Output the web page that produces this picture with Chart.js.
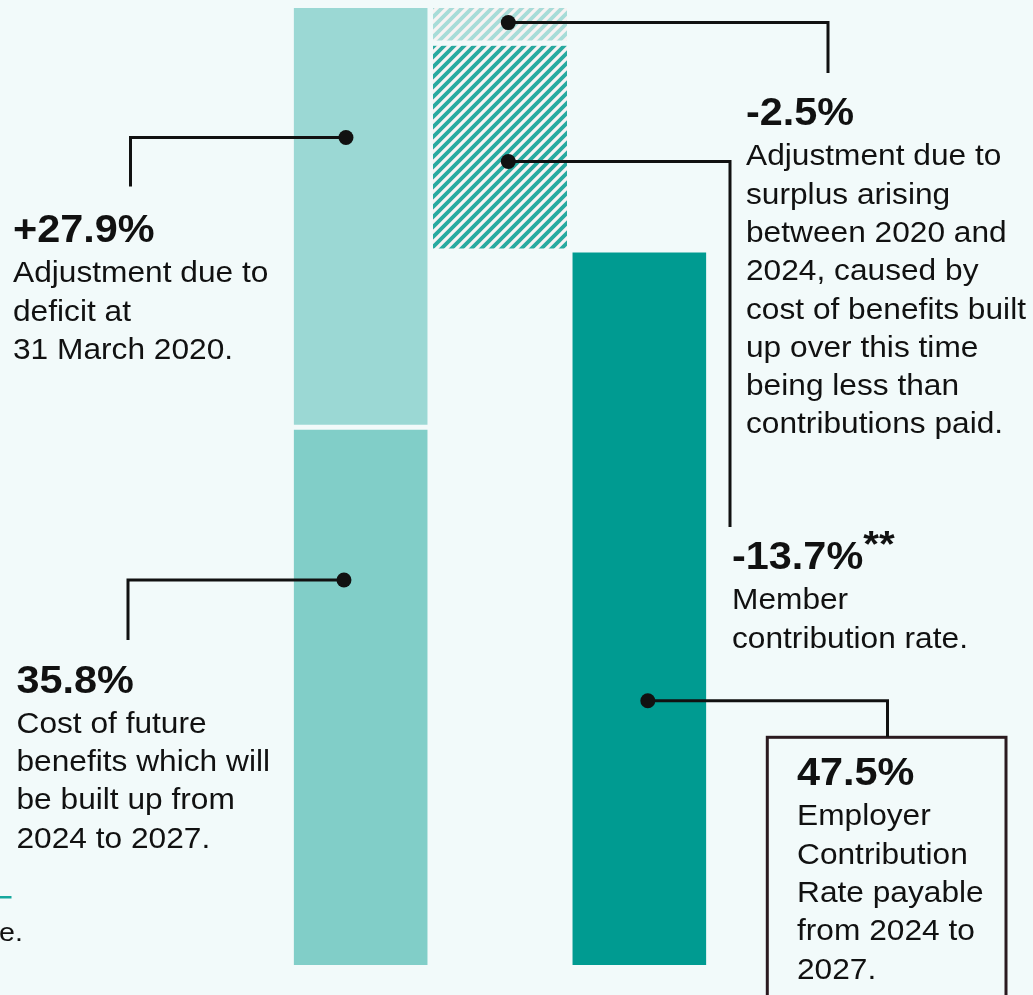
<!DOCTYPE html>
<html>
<head>
<meta charset="utf-8">
<title>Contribution rate build-up</title>
<script src="https://cdn.jsdelivr.net/npm/chart.js@4.4.0/dist/chart.umd.min.js"></script>
<style>
body{margin:0;background:#f2fafa;}
canvas{display:block;}
</style>
</head>
<body>
<canvas id="chartCanvas" width="1033" height="995"></canvas>
<script>
// columns of the waterfall
var columns = ['Build-up', 'Adjustments', 'Employer rate'];
// each step of the waterfall, in order
var steps = ['Cost of future benefits', 'Deficit at 31 March 2020', 'Surplus 2020-2024', 'Member contribution rate', 'Employer contribution rate'];
var stepValues = [35.8, 27.9, -2.5, -13.7, 47.5];
var stepColumn = [0, 0, 1, 1, 2];
var stepIsTotal = [false, false, false, false, true];
var stepTitles = ['35.8%', '+27.9%', '-2.5%', '-13.7%', '47.5%'];
var stepNotes = [
	['Cost of future', 'benefits which will', 'be built up from', '2024 to 2027.'],
	['Adjustment due to', 'deficit at', '31 March 2020.'],
	['Adjustment due to', 'surplus arising', 'between 2020 and', '2024, caused by', 'cost of benefits built', 'up over this time', 'being less than', 'contributions paid.'],
	['Member', 'contribution rate.'],
	['Employer', 'Contribution', 'Rate payable', 'from 2024 to', '2027.']
];

var BG = '#f2fafa';
var INK = '#111111';

function hatch(color){
	var s = 10;
	var c = document.createElement('canvas');
	c.width = s; c.height = s;
	var g = c.getContext('2d');
	g.fillStyle = '#f8f3f3';
	g.fillRect(0, 0, s, s);
	g.strokeStyle = color;
	g.lineWidth = 3.8;
	g.beginPath();
	g.moveTo(-2, 2); g.lineTo(2, -2);
	g.moveTo(0, s); g.lineTo(s, 0);
	g.moveTo(s - 2, s + 2); g.lineTo(s + 2, s - 2);
	g.stroke();
	return document.getElementById('chartCanvas').getContext('2d').createPattern(c, 'repeat');
}

var fills = ['#81cec8', '#9bd8d4', hatch('#a8dcd8'), hatch('#28aaa0'), '#009b91'];
var gaps = [{top: 2.5}, {bottom: 2.5}, {bottom: 5}, {bottom: 3}, {top: 1}];

// running total -> floating ranges
function buildDatasets(){
	var run = 0;
	return steps.map(function(name, i){
		var from, to;
		if (stepIsTotal[i]) { from = 0; to = stepValues[i]; }
		else { from = run; to = run + stepValues[i]; run = to; }
		var data = columns.map(function(c, j){
			return j === stepColumn[i] ? [Math.min(from, to), Math.max(from, to)] : null;
		});
		var bw = Object.assign({top: 0, bottom: 0, left: 0, right: 0}, gaps[i]);
		return {
			label: name,
			data: data,
			backgroundColor: fills[i],
			borderColor: BG,
			borderWidth: bw,
			borderSkipped: false,
			grouped: false,
			barPercentage: 0.962,
			categoryPercentage: 1
		};
	});
}

// callout layout: dot offset from bar centre, dot level, elbow, text block
var callouts = [
	{dx: -16.7, at: 25.63, ex: 128, ey: 640, tx: 16.5, ty: 692.5},
	{dx: -14.7, at: 55.08, ex: 130.5, ey: 186.5, tx: 13, ty: 242},
	{dx: 8.3, at: 62.73, ex: 828, ey: 73, tx: 746, ty: 125},
	{dx: 8.3, at: 53.48, ex: 730, ey: 527, tx: 732, ty: 569},
	{dx: 8.5, at: 17.59, ex: 887.5, ey: 737, tx: 797, ty: 785}
];

function stretchText(ctx, text, x, y, font, sx){
	ctx.save();
	ctx.font = font;
	ctx.translate(x, y);
	ctx.scale(sx, 1);
	ctx.fillText(text, 0, 0);
	ctx.restore();
}

var calloutPlugin = {
	id: 'callouts',
	beforeDraw: function(chart){
		var ctx = chart.ctx;
		ctx.save();
		ctx.fillStyle = BG;
		ctx.fillRect(0, 0, chart.width, chart.height);
		ctx.restore();
	},
	afterDatasetsDraw: function(chart){
		var ctx = chart.ctx;
		var xs = chart.scales.x, ys = chart.scales.y;
		ctx.save();
		// box round the employer rate
		ctx.strokeStyle = '#2b1a1f';
		ctx.lineWidth = 3;
		ctx.strokeRect(767.3, 737.3, 238.7, 320);

		callouts.forEach(function(c, i){
			var px = xs.getPixelForValue(stepColumn[i]) + c.dx;
			var py = ys.getPixelForValue(c.at);
			ctx.strokeStyle = INK;
			ctx.lineWidth = 3;
			ctx.beginPath();
			ctx.moveTo(px, py);
			ctx.lineTo(c.ex, py);
			ctx.lineTo(c.ex, c.ey);
			ctx.stroke();
			ctx.fillStyle = INK;
			ctx.beginPath();
			ctx.arc(px, py, 7.5, 0, Math.PI * 2);
			ctx.fill();

			stretchText(ctx, stepTitles[i], c.tx, c.ty, 'bold 38px "Liberation Sans", Arial, sans-serif', 1.09);
			if (i === 3) {
				ctx.font = 'bold 38px "Liberation Sans", Arial, sans-serif';
				var w = ctx.measureText(stepTitles[i]).width * 1.09;
				stretchText(ctx, '**', c.tx + w, c.ty - 12, 'bold 37px "Liberation Sans", Arial, sans-serif', 1.09);
			}
			stepNotes[i].forEach(function(line, k){
				stretchText(ctx, line, c.tx, c.ty + 40.3 + k * 38.3, '28.8px "Liberation Sans", Arial, sans-serif', 1.1);
			});
		});

		// footnote fragment at the left edge
		ctx.fillStyle = '#16a89e';
		ctx.fillRect(0, 896, 11.5, 2.5);
		ctx.fillStyle = INK;
		stretchText(ctx, 'e.', -1, 941, '26px "Liberation Sans", Arial, sans-serif', 1.1);
		ctx.restore();
	}
};

var ctx = document.getElementById('chartCanvas').getContext('2d');
var chart = new Chart(ctx, {
	type: 'bar',
	data: {
		labels: columns,
		datasets: buildDatasets()
	},
	options: {
		responsive: false,
		animation: false,
		layout: {padding: {left: 291, right: 324, top: 8, bottom: 30}},
		plugins: {legend: {display: false}, tooltip: {enabled: false}},
		scales: {
			x: {display: false},
			y: {display: false, min: 0, max: 63.7}
		}
	},
	plugins: [calloutPlugin]
});
</script>
</body>
</html>
